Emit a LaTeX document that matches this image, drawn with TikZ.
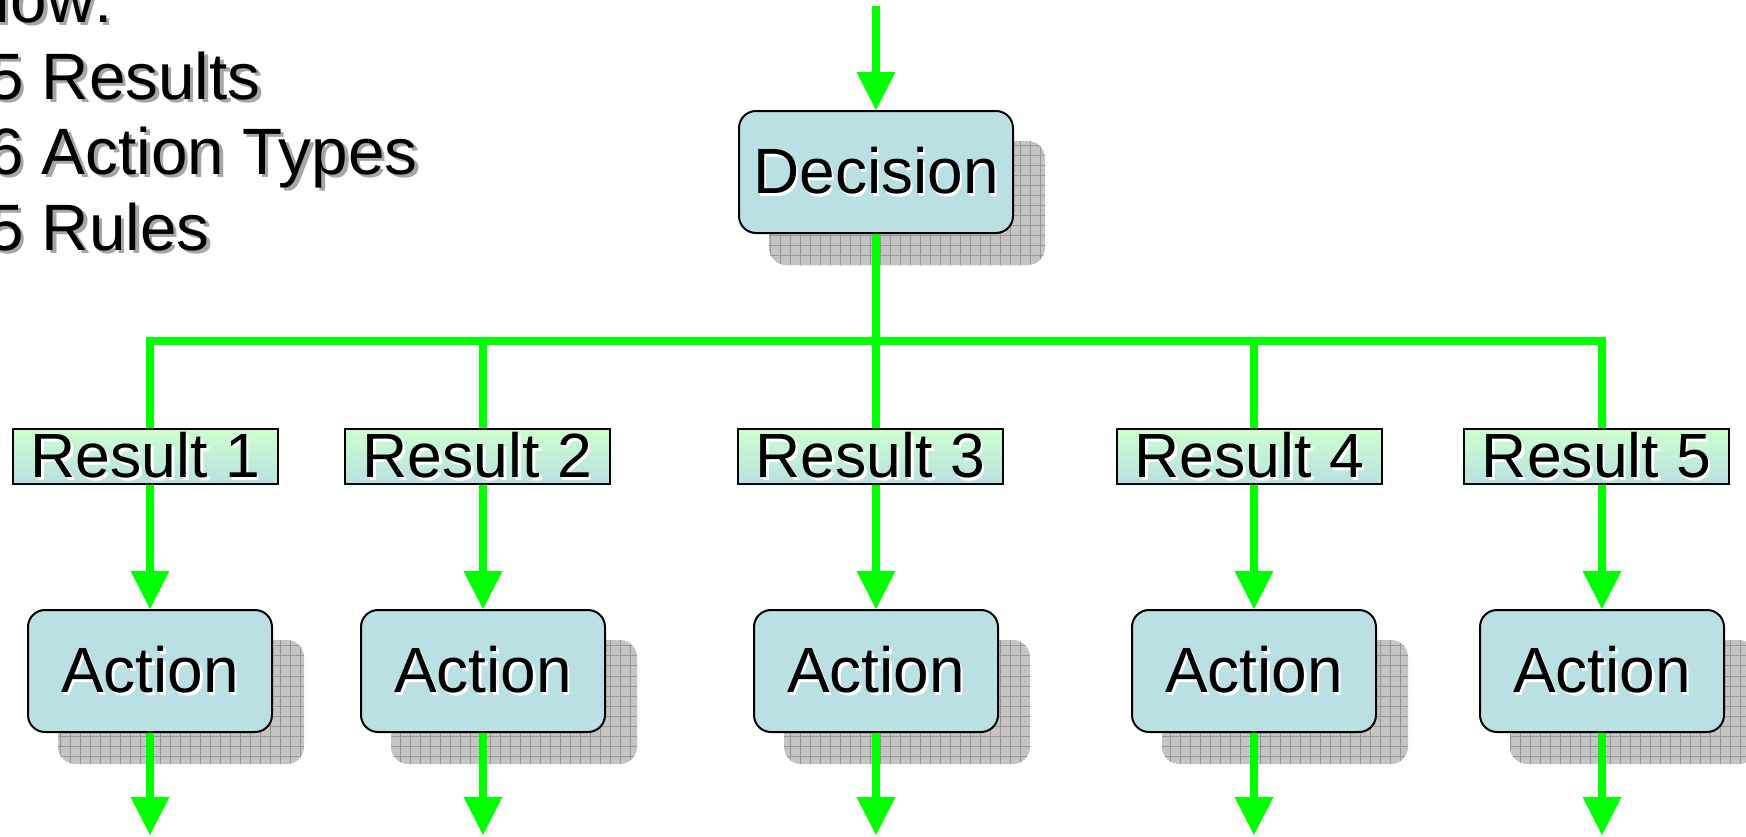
\documentclass[tikz,border=0pt]{standalone}
\usepackage{fontspec}
\setmainfont{Liberation Sans}
\usetikzlibrary{arrows.meta,patterns.meta,calc}
\pgfdeclarelayer{background}
\pgfsetlayers{background,main}
\definecolor{boxfill}{RGB}{186,224,227}
\definecolor{resulttop}{RGB}{204,255,204}
\definecolor{flowgreen}{RGB}{0,255,0}
\definecolor{shbase}{RGB}{196,196,196}
\definecolor{shgrid}{RGB}{150,150,150}
\newcommand\whsh[1]{\leavevmode\rlap{\hspace{2.5pt}\raisebox{-2.5pt}{\textcolor{white}{#1}}}#1}
\newcommand\grsh[1]{\leavevmode\rlap{\hspace{3.5pt}\raisebox{-3.5pt}{\textcolor{black!35}{#1}}}#1}
\begin{document}
\begin{tikzpicture}[x=1pt,y=-1pt,
  flow/.style={draw=flowgreen, line width=8pt},
  flowarrow/.style={flow, -{Triangle[width=39pt,length=38pt,line width=0pt]}},
  procbox/.style={draw=black, line width=2pt, fill=boxfill, rounded corners=17pt,
    minimum height=122pt, inner sep=0pt, font=\fontsize{64}{64}\selectfont},
  decbox/.style={procbox, minimum width=274pt},
  actbox/.style={procbox, minimum width=244pt},
  resbox/.style={draw=black, line width=1.5pt, top color=resulttop, bottom color=boxfill,
    minimum width=265pt, minimum height=55pt, inner sep=0pt, font=\fontsize{62.5}{62.5}\selectfont},
  shadowbox/.style={fill=shbase, rounded corners=17pt,
    postaction={pattern={Lines[distance=10pt,line width=1pt]}, pattern color=shgrid},
    postaction={pattern={Lines[angle=90,distance=10pt,line width=1pt]}, pattern color=shgrid}},
  listtext/.style={anchor=base west, inner sep=0pt, font=\fontsize{65.6}{65.6}\selectfont}
]
\useasboundingbox (0,0) rectangle (1746,836);

% boxes
\node[decbox] (dec) at (876,172) {\whsh{Decision}};
\foreach \i/\x in {1/150,2/483,3/876,4/1254,5/1602}{
  \node[actbox] (act\i) at (\x,671) {\whsh{Action}};
}

% shadows
\begin{pgfonlayer}{background}
  \path[shadowbox] ($(dec.north west)+(31,31)$) rectangle ($(dec.south east)+(31,31)$);
  \foreach \i in {1,...,5}{
    \path[shadowbox] ($(act\i.north west)+(31,31)$) rectangle ($(act\i.south east)+(31,31)$);
  }
\end{pgfonlayer}

% connectors
\coordinate (top) at (876,6);
\coordinate (hub) at (876,341);
\draw[flowarrow] (top) -- (dec.north);
\draw[flow] (dec.south) -- (hub);
\draw[flowarrow] (hub) -| (act1.north);
\draw[flowarrow] (hub) -| (act2.north);
\draw[flowarrow] (hub) -- (act3.north);
\draw[flowarrow] (hub) -| (act4.north);
\draw[flowarrow] (hub) -| (act5.north);
\foreach \i/\x in {1/150,2/483,3/876,4/1254,5/1602}{
  \coordinate (out\i) at (\x,835);
  \draw[flowarrow] (act\i.south) -- (out\i);
}

% result labels
\foreach \i/\x in {1/145.5,2/477.5,3/870.5,4/1249.5,5/1596.5}{
  \node[resbox] (res\i) at (\x,456.5) {\whsh{Result \i}};
}

% list text
\node[listtext] (now) at (-37,22) {\grsh{Now:}};
\node[listtext] (l1) at (-13,99) {\grsh{5 Results}};
\node[listtext] (l2) at (-13,174) {\grsh{6 Action Types}};
\node[listtext] (l3) at (-13,250) {\grsh{5 Rules}};
\end{tikzpicture}
\end{document}
